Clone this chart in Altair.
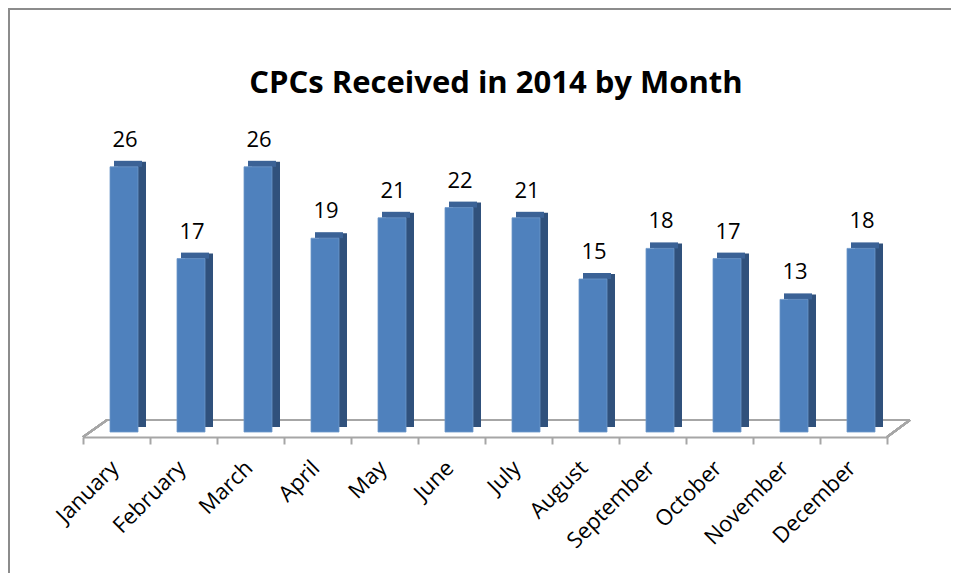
import altair as alt
import pandas as pd

months = ["January", "February", "March", "April", "May", "June", "July",
          "August", "September", "October", "November", "December"]
counts = [26, 17, 26, 19, 21, 22, 21, 15, 18, 17, 13, 18]
title_text = "CPCs Received in 2014 by Month"

df = pd.DataFrame({"month": months, "count": counts})

W, H = 804, 306
FONT = "Open Sans"

xenc = alt.X("month:N", sort=months, title=None,
             scale=alt.Scale(paddingInner=0, paddingOuter=0),
             axis=alt.Axis(labelAngle=-45, labelAlign="right", labelBaseline="top",
                           labelFontSize=22, labelFont=FONT, labelColor="#000000",
                           labelPadding=13, labelOffset=-9,
                           tickBand="extent", tickSize=7, tickColor="#a6a6a6", tickWidth=2,
                           domainColor="#a6a6a6", domainWidth=2, offset=5, grid=False))
yenc = alt.Y("count:Q", scale=alt.Scale(domain=[0, 30]), axis=None, title=None)

base = alt.Chart(df)

# floor (back edge and slanted side edges)
floor_back = alt.Chart(df).mark_rule(color="#a6a6a6", strokeWidth=2).encode(
    x=alt.value(24), x2=alt.value(827), y=alt.value(294))
floor_left = alt.Chart(df).mark_rule(color="#a6a6a6", strokeWidth=2).encode(
    x=alt.value(0), x2=alt.value(24), y=alt.value(311), y2=alt.value(294))
floor_right = alt.Chart(df).mark_rule(color="#a6a6a6", strokeWidth=2).encode(
    x=alt.value(804), x2=alt.value(827), y=alt.value(311), y2=alt.value(294))

side = base.mark_bar(size=28, xOffset=15.5, yOffset=-5, y2Offset=-5,
                     color="#30517c").encode(x=xenc, y=yenc)
top = base.mark_bar(size=28, xOffset=11.5, yOffset=-6, y2Offset=0,
                    color="#3b6296").encode(x=xenc, y=yenc, y2="count:Q")
front = base.mark_bar(size=28, xOffset=7.5, color="#4f81bd",
                      stroke="#6d97c9", strokeWidth=0.8).encode(x=xenc, y=yenc)
labels = base.mark_text(fontSize=22, font=FONT, color="#000000", baseline="alphabetic",
                        dx=8.5, dy=-20).encode(x=xenc, y=yenc, text="count:Q")

title = alt.Chart(pd.DataFrame({"t": [title_text]})).mark_text(
    font=FONT, fontSize=31, fontWeight="bold", color="#000000",
    align="center", baseline="alphabetic").encode(
    x=alt.value(W / 2 + 11), y=alt.value(-33), text="t:N")

border = alt.Chart(df).mark_rect(fill=None, stroke="#8c8c8c", strokeWidth=2).encode(
    x=alt.value(-74), x2=alt.value(W + 100), y=alt.value(-117), y2=alt.value(H + 200))

chart = alt.layer(border, floor_back, floor_left, floor_right, side, top, front, labels, title).properties(
    width=W, height=H,
    autosize=alt.AutoSizeParams(type="none"),
    padding={"left": 75, "top": 118, "right": 64, "bottom": 141},
).configure(background="#ffffff").configure_view(stroke=None, strokeWidth=0)

chart.save("out.html", embed_options={"renderer": "svg", "actions": False})
